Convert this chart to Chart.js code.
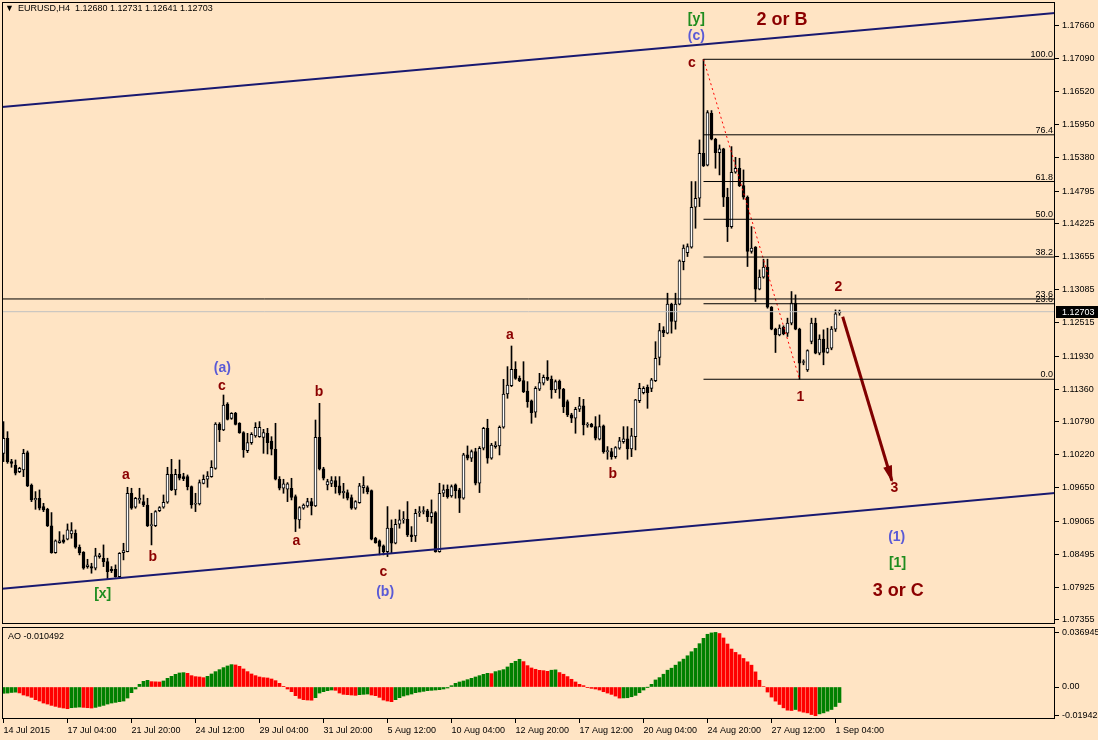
<!DOCTYPE html>
<html lang="en">
<head>
<meta charset="UTF-8">
<title>EURUSD,H4</title>
<style>
    html, body { margin: 0; padding: 0; background: #FFE4C4; }
    body { width: 1098px; height: 740px; position: relative; overflow: hidden; font-family: "Liberation Sans", Arial, sans-serif; }
    canvas { position: absolute; left: 0; }
    #main { top: 0; }
    #ao { top: 626px; }
    .cap { position: absolute; font-size: 9px; line-height: 10px; color: #000; white-space: pre; }
</style>
<script src="https://cdn.jsdelivr.net/npm/chart.js"></script>
</head>
<body>
<canvas id="main" width="1098" height="626"></canvas>
<canvas id="ao" width="1098" height="114"></canvas>
<div class="cap" style="left:5px;top:3px;font-size:9px">▼</div>
<div class="cap" style="left:18px;top:3px">EURUSD,H4  1.12680 1.12731 1.12641 1.12703</div>
<div class="cap" style="left:8px;top:631px">AO -0.010492</div>

<script>
// H4 candles, 14 Jul 2015 12:00 .. 1 Sep 2015 08:00 (bar index 0..209)
const opens = [
    1.10246, 1.10507, 1.10102, 1.10044, 1.09929, 1.09957, 1.10258, 1.09697, 1.09437, 1.09466,
    1.09322, 1.09275, 1.08986, 1.08524, 1.08697, 1.08744, 1.08755, 1.08848, 1.08859, 1.08616,
    1.08530, 1.08281, 1.08281, 1.08252, 1.08455, 1.08426, 1.08368, 1.08235, 1.08235, 1.08108,
    1.08524, 1.08541, 1.09553, 1.09310, 1.09437, 1.09408, 1.09350, 1.08992, 1.08992, 1.09252,
    1.09310, 1.09397, 1.09882, 1.09611, 1.09882, 1.09842, 1.09842, 1.09668, 1.09362, 1.09368,
    1.09726, 1.09796, 1.09842, 1.09986, 1.10755, 1.10651, 1.11102, 1.10853, 1.10940, 1.10767,
    1.10605, 1.10293, 1.10431, 1.10547, 1.10535, 1.10524, 1.10593, 1.10460, 1.10316, 1.09796,
    1.09640, 1.09622, 1.09640, 1.09495, 1.09090, 1.09293, 1.09333, 1.09408, 1.09333, 1.10524,
    1.09975, 1.09697, 1.09726, 1.09772, 1.09680, 1.09564, 1.09564, 1.09478, 1.09293, 1.09391,
    1.09652, 1.09652, 1.09600, 1.08773, 1.08727, 1.08640, 1.08542, 1.08947, 1.08686, 1.09016,
    1.09091, 1.09103, 1.08831, 1.08814, 1.09218, 1.09236, 1.09247, 1.09149, 1.09218, 1.08542,
    1.09553, 1.09623, 1.09507, 1.09698, 1.09611, 1.09467, 1.10218, 1.10160, 1.10276, 1.09727,
    1.10334, 1.10681, 1.10160, 1.10363, 1.10374, 1.10698, 1.11276, 1.11420, 1.11704, 1.11547,
    1.11507, 1.11328, 1.11155, 1.10958, 1.11357, 1.11461, 1.11565, 1.11536, 1.11345, 1.11501,
    1.11357, 1.11143, 1.10912, 1.10854, 1.11010, 1.11068, 1.10733, 1.10750, 1.10709, 1.10490,
    1.10721, 1.10276, 1.10276, 1.10189, 1.10334, 1.10449, 1.10496, 1.10322, 1.10536, 1.11160,
    1.11299, 1.11391, 1.11374, 1.11507, 1.11912, 1.12386, 1.12331, 1.12834, 1.12533, 1.12834,
    1.13573, 1.13729, 1.13822, 1.14515, 1.14672, 1.15452, 1.15244, 1.16145, 1.15695, 1.15463,
    1.15527, 1.14689, 1.14180, 1.15122, 1.15192, 1.14891, 1.14689, 1.13747, 1.13822, 1.13094,
    1.13302, 1.13475, 1.12782, 1.12400, 1.12302, 1.12435, 1.12331, 1.12504, 1.12851, 1.12400,
    1.11822, 1.11695, 1.12186, 1.12504, 1.11984, 1.12227, 1.11995, 1.12071, 1.12400, 1.12680
];
const highs = [
    1.10796, 1.10622, 1.10142, 1.10131, 1.10004, 1.10316, 1.10287, 1.09715, 1.09582, 1.09611,
    1.09379, 1.09293, 1.09218, 1.08744, 1.08888, 1.08830, 1.09021, 1.09044, 1.08917, 1.08657,
    1.08541, 1.08408, 1.08339, 1.08599, 1.08512, 1.08657, 1.08426, 1.08281, 1.08310, 1.08524,
    1.08686, 1.09657, 1.09640, 1.09483, 1.09640, 1.09524, 1.09466, 1.09206, 1.09252, 1.09322,
    1.09524, 1.10004, 1.10142, 1.09969, 1.10131, 1.09900, 1.09871, 1.09680, 1.09553, 1.09784,
    1.09871, 1.09929, 1.10119, 1.10778, 1.10778, 1.11258, 1.11125, 1.10952, 1.10957, 1.10778,
    1.10622, 1.10593, 1.10605, 1.10778, 1.10796, 1.10662, 1.10680, 1.10535, 1.10767, 1.09842,
    1.09796, 1.09738, 1.09813, 1.09524, 1.09322, 1.09368, 1.09466, 1.09466, 1.10824, 1.11113,
    1.10004, 1.09796, 1.09842, 1.09842, 1.09842, 1.09726, 1.09611, 1.09524, 1.09425, 1.09726,
    1.09842, 1.09681, 1.09611, 1.08790, 1.08744, 1.08657, 1.09322, 1.09091, 1.09103, 1.09264,
    1.09236, 1.09409, 1.08975, 1.09276, 1.09322, 1.09322, 1.09276, 1.09438, 1.09236, 1.09727,
    1.09698, 1.09698, 1.09698, 1.09715, 1.09640, 1.10247, 1.10374, 1.10305, 1.10334, 1.10363,
    1.10698, 1.10837, 1.10420, 1.10449, 1.10721, 1.11530, 1.11750, 1.12108, 1.11836, 1.11588,
    1.11836, 1.11490, 1.11172, 1.11403, 1.11634, 1.11605, 1.11854, 1.11588, 1.11519, 1.11519,
    1.11374, 1.11172, 1.10941, 1.11045, 1.11218, 1.11183, 1.10779, 1.10767, 1.10883, 1.10912,
    1.10738, 1.10363, 1.10334, 1.10363, 1.10524, 1.10709, 1.10709, 1.10681, 1.11183, 1.11461,
    1.11403, 1.11432, 1.11547, 1.12183, 1.12501, 1.12443, 1.13024, 1.12851, 1.13024, 1.13602,
    1.13862, 1.13880, 1.14961, 1.14961, 1.15683, 1.17082, 1.16192, 1.16192, 1.15712, 1.15596,
    1.15539, 1.14845, 1.15567, 1.15382, 1.15365, 1.15163, 1.14712, 1.14180, 1.13833, 1.13429,
    1.13614, 1.13614, 1.12793, 1.12417, 1.12475, 1.12458, 1.12591, 1.13053, 1.12995, 1.12417,
    1.11868, 1.12042, 1.12591, 1.12591, 1.12302, 1.12389, 1.12417, 1.12446, 1.12735, 1.12731
];
const lows = [
    1.10102, 1.10073, 1.10004, 1.09871, 1.09911, 1.09842, 1.09668, 1.09408, 1.09275, 1.09264,
    1.09235, 1.08975, 1.08512, 1.08512, 1.08686, 1.08686, 1.08744, 1.08773, 1.08599, 1.08484,
    1.08235, 1.08252, 1.08166, 1.08223, 1.08426, 1.08281, 1.08062, 1.08177, 1.08096, 1.08079,
    1.08397, 1.08536, 1.09275, 1.09293, 1.09379, 1.09322, 1.08975, 1.08657, 1.08975, 1.09235,
    1.09293, 1.09379, 1.09599, 1.09524, 1.09784, 1.09772, 1.09611, 1.09293, 1.09235, 1.09350,
    1.09715, 1.09657, 1.09830, 1.09969, 1.10449, 1.10639, 1.10824, 1.10836, 1.10738, 1.10593,
    1.10177, 1.10258, 1.10402, 1.10524, 1.10524, 1.10246, 1.10235, 1.10218, 1.09784, 1.09611,
    1.09553, 1.09408, 1.09437, 1.08888, 1.08946, 1.09275, 1.09310, 1.09177, 1.09322, 1.09957,
    1.09784, 1.09611, 1.09668, 1.09553, 1.09524, 1.09466, 1.09437, 1.09275, 1.09275, 1.09379,
    1.09553, 1.09542, 1.08744, 1.08686, 1.08484, 1.08484, 1.08455, 1.08513, 1.08675, 1.08947,
    1.09033, 1.08802, 1.08715, 1.08715, 1.09149, 1.09195, 1.09062, 1.09033, 1.08530, 1.08530,
    1.09495, 1.09467, 1.09484, 1.09467, 1.09218, 1.09449, 1.10131, 1.10103, 1.09698, 1.09565,
    1.10305, 1.10074, 1.10143, 1.10334, 1.10218, 1.10681, 1.11201, 1.11403, 1.11530, 1.11490,
    1.11299, 1.11045, 1.10767, 1.10871, 1.11334, 1.11432, 1.11507, 1.11201, 1.11299, 1.11201,
    1.10952, 1.10883, 1.10779, 1.10594, 1.10970, 1.10565, 1.10698, 1.10698, 1.10478, 1.10478,
    1.10247, 1.10143, 1.10143, 1.10160, 1.10316, 1.10420, 1.10143, 1.10189, 1.10305, 1.11126,
    1.11276, 1.11027, 1.11316, 1.11490, 1.11779, 1.12270, 1.12319, 1.12331, 1.12400, 1.12822,
    1.13429, 1.13660, 1.13805, 1.14151, 1.14527, 1.15221, 1.15232, 1.15683, 1.15192, 1.15076,
    1.14527, 1.13920, 1.14151, 1.15105, 1.14874, 1.14654, 1.13487, 1.13718, 1.12880, 1.13082,
    1.13284, 1.12764, 1.12389, 1.11995, 1.12284, 1.12302, 1.12273, 1.12475, 1.12389, 1.11531,
    1.11782, 1.11666, 1.12146, 1.11972, 1.11955, 1.11782, 1.11984, 1.12042, 1.12360, 1.12641
];
const closes = [
    1.10507, 1.10102, 1.10073, 1.09900, 1.09986, 1.10246, 1.09680, 1.09437, 1.09466, 1.09293,
    1.09264, 1.08992, 1.08524, 1.08726, 1.08726, 1.08703, 1.08917, 1.08906, 1.08616, 1.08524,
    1.08252, 1.08310, 1.08252, 1.08466, 1.08484, 1.08368, 1.08195, 1.08212, 1.08108, 1.08512,
    1.08559, 1.09553, 1.09293, 1.09466, 1.09466, 1.09350, 1.08992, 1.09010, 1.09235, 1.09304,
    1.09397, 1.09882, 1.09611, 1.09882, 1.09813, 1.09807, 1.09668, 1.09350, 1.09379, 1.09738,
    1.09796, 1.09853, 1.10004, 1.10755, 1.10651, 1.11085, 1.10836, 1.10940, 1.10749, 1.10605,
    1.10304, 1.10431, 1.10576, 1.10697, 1.10697, 1.10605, 1.10431, 1.10316, 1.09796, 1.09640,
    1.09715, 1.09715, 1.09483, 1.09102, 1.09304, 1.09350, 1.09408, 1.09333, 1.10524, 1.09975,
    1.09813, 1.09755, 1.09772, 1.09668, 1.09553, 1.09587, 1.09466, 1.09293, 1.09408, 1.09680,
    1.09686, 1.09582, 1.08756, 1.08698, 1.08629, 1.08542, 1.08947, 1.08686, 1.09016, 1.09091,
    1.09108, 1.08831, 1.08802, 1.09207, 1.09236, 1.09247, 1.09149, 1.09218, 1.08542, 1.09553,
    1.09611, 1.09495, 1.09669, 1.09600, 1.09467, 1.10218, 1.10160, 1.10276, 1.09727, 1.10334,
    1.10681, 1.10160, 1.10391, 1.10391, 1.10698, 1.11276, 1.11432, 1.11704, 1.11547, 1.11507,
    1.11316, 1.11143, 1.10952, 1.11374, 1.11472, 1.11565, 1.11530, 1.11345, 1.11490, 1.11357,
    1.11056, 1.10912, 1.10854, 1.11010, 1.11068, 1.10738, 1.10750, 1.10709, 1.10507, 1.10709,
    1.10276, 1.10293, 1.10189, 1.10345, 1.10461, 1.10496, 1.10322, 1.10548, 1.11172, 1.11374,
    1.11374, 1.11299, 1.11519, 1.11894, 1.12374, 1.12339, 1.12834, 1.12533, 1.12834, 1.13585,
    1.13805, 1.13833, 1.14515, 1.14672, 1.15452, 1.15232, 1.16157, 1.15695, 1.15463, 1.15527,
    1.14689, 1.14180, 1.15122, 1.15192, 1.14891, 1.14689, 1.13747, 1.13805, 1.13094, 1.13302,
    1.13475, 1.12782, 1.12400, 1.12302, 1.12417, 1.12319, 1.12504, 1.12851, 1.12400, 1.11810,
    1.11839, 1.12030, 1.12504, 1.11984, 1.12227, 1.11995, 1.12071, 1.12400, 1.12666, 1.12703
];

// Awesome Oscillator, one value per bar
const aoValues = [
    -0.00425, -0.00410, -0.00370, -0.00350, -0.00400, -0.00542, -0.00610, -0.00701, -0.00859, -0.00949,
    -0.01085, -0.01153, -0.01243, -0.01311, -0.01379, -0.01424, -0.01469, -0.01401, -0.01379, -0.01356,
    -0.01379, -0.01401, -0.01424, -0.01379, -0.01311, -0.01243, -0.01153, -0.01085, -0.01040, -0.00994,
    -0.00949, -0.00746, -0.00384, -0.00136, 0.00181, 0.00384, 0.00452, 0.00362, 0.00350, 0.00339,
    0.00407, 0.00588, 0.00723, 0.00859, 0.00949, 0.00972, 0.00927, 0.00768, 0.00701, 0.00678,
    0.00633, 0.00723, 0.00881, 0.01040, 0.01175, 0.01311, 0.01424, 0.01514, 0.01492, 0.01401,
    0.01220, 0.01040, 0.00881, 0.00768, 0.00678, 0.00633, 0.00610, 0.00542, 0.00429, 0.00249,
    0.00045, -0.00136, -0.00316, -0.00588, -0.00768, -0.00859, -0.00881, -0.00893, -0.00723, -0.00407,
    -0.00316, -0.00249, -0.00203, -0.00226, -0.00407, -0.00497, -0.00520, -0.00542, -0.00565, -0.00520,
    -0.00497, -0.00475, -0.00542, -0.00588, -0.00701, -0.00881, -0.00949, -0.00994, -0.00859, -0.00723,
    -0.00610, -0.00542, -0.00475, -0.00384, -0.00339, -0.00294, -0.00249, -0.00226, -0.00203, -0.00181,
    -0.00136, -0.00068, 0.00090, 0.00249, 0.00339, 0.00407, 0.00497, 0.00588, 0.00678, 0.00768,
    0.00859, 0.00927, 0.00904, 0.01040, 0.01107, 0.01175, 0.01356, 0.01605, 0.01740, 0.01876,
    0.01718, 0.01446, 0.01288, 0.01198, 0.01130, 0.01107, 0.01062, 0.01136, 0.01159, 0.00977,
    0.00864, 0.00705, 0.00523, 0.00341, 0.00182, 0.00091, -0.00023, -0.00091, -0.00136, -0.00205,
    -0.00318, -0.00409, -0.00500, -0.00614, -0.00750, -0.00739, -0.00727, -0.00659, -0.00568, -0.00386,
    -0.00205, -0.00011, 0.00182, 0.00477, 0.00636, 0.00864, 0.01136, 0.01273, 0.01477, 0.01705,
    0.01886, 0.02114, 0.02386, 0.02614, 0.02932, 0.03295, 0.03568, 0.03660, 0.036945, 0.03620,
    0.03318, 0.02909, 0.02568, 0.02341, 0.02182, 0.01932, 0.01705, 0.01477, 0.01023, 0.00455,
    0.00034, -0.00341, -0.00682, -0.00955, -0.01182, -0.01409, -0.01568, -0.01591, -0.01523, -0.01636,
    -0.01705, -0.01750, -0.01864, -0.019425, -0.01818, -0.01750, -0.01636, -0.01523, -0.01320, -0.010492
];

// axis labels
const priceTicks = [1.17660, 1.17090, 1.16520, 1.15950, 1.15380, 1.14795, 1.14225, 1.13655, 1.13085,
                    1.12515, 1.11930, 1.11360, 1.10790, 1.10220, 1.09650, 1.09065, 1.08495, 1.07925, 1.07355];
const aoTicks = [0.036945, 0, -0.019425];
const aoTickLabels = ['0.036945', '0.00', '-0.019425'];
const timeTickBars = [0, 16, 32, 48, 64, 80, 96, 112, 128, 144, 160, 176, 192, 208];
const timeTickLabels = ['14 Jul 2015', '17 Jul 04:00', '21 Jul 20:00', '24 Jul 12:00', '29 Jul 04:00',
    '31 Jul 20:00', '5 Aug 12:00', '10 Aug 04:00', '12 Aug 20:00', '17 Aug 12:00', '20 Aug 04:00',
    '24 Aug 20:00', '27 Aug 12:00', '1 Sep 04:00'];

// drawn objects (bar index, price)
const upperChannelBars = [-1, 264], upperChannelPrices = [1.16249, 1.17892];
const lowerChannelBars = [-1, 264], lowerChannelPrices = [1.07892, 1.09564];
const levelLine = 1.12924;
const bidPrice = 1.12703;
const fibStartBar = 175, fibHighBar = 175, fibLowBar = 199;
const fibLevels = [0, 23.6, 38.2, 50, 61.8, 76.4, 100];
const arrowBars = [209.8, 222.1], arrowPrices = [1.12616, 1.09771];

const waveText  = ['[x]', 'a', 'b', '(a)', 'c', 'a', 'b', 'c', '(b)', 'a', 'b',
                   '[y]', '(c)', 'c', '2 or B', '1', '2', '3', '(1)', '[1]', '3 or C'];
const waveBar   = [24.8, 30.6, 37.3, 54.7, 54.6, 73.2, 78.9, 95.0, 95.4, 126.6, 152.3,
                   173.2, 173.2, 172.1, 194.6, 199.2, 208.7, 222.7, 223.3, 223.5, 223.7];
const wavePrice = [1.07805, 1.09870, 1.08452, 1.11726, 1.11414, 1.08725, 1.11305, 1.08182, 1.07840, 1.12299, 1.09887,
                   1.17785, 1.17481, 1.17018, 1.17759, 1.11218, 1.13126, 1.09639, 1.08799, 1.08348, 1.07862];

const FONT = '"Liberation Sans", Arial, sans-serif';
const MAROON = '#8B0000';
const xMin = -0.375, xMax = 262.875;

const fibHigh = highs[fibHighBar], fibLow = lows[fibLowBar];
const fibPrice = lvl => fibLow + (fibHigh - fibLow) * lvl / 100;
const seg = (bars, prices) => bars.map((b, k) => ({ x: b, y: prices[k] }));
const idx = opens.map((_, i) => i);

function lineSet(data, color, width, dash) {
    return { type: 'line', data: data, borderColor: color, borderWidth: width, borderDash: dash || [],
             pointRadius: 0, fill: false, tension: 0, order: 0 };
}

const overlay = {
    id: 'overlay',
    afterDatasetsDraw(chart) {
        const { ctx, chartArea: a, scales: { x, y } } = chart;
        ctx.save();
        // fibo level captions
        ctx.font = '9px ' + FONT;
        ctx.fillStyle = '#000';
        ctx.textAlign = 'right';
        ctx.textBaseline = 'alphabetic';
        fibLevels.forEach(l => ctx.fillText(l.toFixed(1), a.right - 2, y.getPixelForValue(fibPrice(l)) - 2));
        ctx.fillText('23.6', a.right - 2, y.getPixelForValue(levelLine) - 2);

        // arrow head
        const x0 = x.getPixelForValue(arrowBars[0]), y0 = y.getPixelForValue(arrowPrices[0]);
        const x1 = x.getPixelForValue(arrowBars[1]), y1 = y.getPixelForValue(arrowPrices[1]);
        const ang = Math.atan2(y1 - y0, x1 - x0), c = Math.cos(ang), s = Math.sin(ang);
        ctx.fillStyle = '#800000';
        ctx.beginPath();
        ctx.moveTo(x1 + 2 * c, y1 + 2 * s);
        ctx.lineTo(x1 - 15 * c + 4.5 * s, y1 - 15 * s - 4.5 * c);
        ctx.lineTo(x1 - 15 * c - 4.5 * s, y1 - 15 * s + 4.5 * c);
        ctx.closePath();
        ctx.fill();

        // wave labels
        ctx.textAlign = 'center';
        ctx.textBaseline = 'middle';
        waveText.forEach((t, k) => {
            ctx.font = (t.includes(' or ') ? 'bold 18px ' : 'bold 14px ') + FONT;
            ctx.fillStyle = t[0] === '(' ? '#5A5AD6' : t[0] === '[' ? '#1E8C1E' : MAROON;
            ctx.fillText(t, x.getPixelForValue(waveBar[k]), y.getPixelForValue(wavePrice[k]));
        });

        // frame
        ctx.strokeStyle = '#000';
        ctx.lineWidth = 1;
        ctx.strokeRect(a.left + 0.5, a.top + 0.5, a.width - 1, a.height - 1);

        // current price box
        const by = Math.round(y.getPixelForValue(bidPrice));
        ctx.fillStyle = '#000';
        ctx.fillRect(a.right + 1, by - 6, 43, 12);
        ctx.fillStyle = '#FFF';
        ctx.font = '9px ' + FONT;
        ctx.textAlign = 'left';
        ctx.fillText(bidPrice.toFixed(5), a.right + 7, by + 0.5);
        ctx.restore();
    }
};

const frame = {
    id: 'frame',
    afterDatasetsDraw(chart) {
        const { ctx, chartArea: a } = chart;
        ctx.save();
        ctx.strokeStyle = '#000';
        ctx.lineWidth = 1;
        ctx.strokeRect(a.left + 0.5, a.top + 0.5, a.width - 1, a.height - 1);
        ctx.restore();
    }
};

const tickFont = { family: FONT, size: 9 };

new Chart(document.getElementById('main'), {
    type: 'bar',
    data: {
        datasets: [
            lineSet(seg(upperChannelBars, upperChannelPrices), '#191970', 2),
            lineSet(seg(lowerChannelBars, lowerChannelPrices), '#191970', 2),
            lineSet(seg([-1, 264], [bidPrice, bidPrice]), '#C0C0C0', 1),
            lineSet(seg([-1, 264], [levelLine, levelLine]), '#000', 1),
            ...fibLevels.map(l => lineSet(seg([fibStartBar, 264], [fibPrice(l), fibPrice(l)]), '#000', 1)),
            lineSet(seg([fibHighBar, fibLowBar], [fibHigh, fibLow]), '#FF0000', 1, [2, 3]),
            lineSet(seg(arrowBars, arrowPrices), '#800000', 3),
            {
                label: 'body',
                data: idx.map(i => ({ x: i, y: [Math.min(opens[i], closes[i]), Math.max(opens[i], closes[i])] })),
                backgroundColor: idx.map(i => closes[i] >= opens[i] ? '#FFFFFF' : '#000000'),
                borderColor: '#000',
                borderWidth: 1,
                borderSkipped: false,
                barThickness: 3,
                minBarLength: 1,
                grouped: false,
                order: 1
            },
            {
                label: 'wick',
                data: idx.map(i => ({ x: i, y: [lows[i], highs[i]] })),
                backgroundColor: '#000',
                borderWidth: 0,
                barThickness: 1,
                grouped: false,
                order: 2
            }
        ]
    },
    options: {
        responsive: false,
        animation: false,
        events: [],
        layout: { padding: { left: 2, top: 2, right: 0, bottom: 2 } },
        plugins: { legend: { display: false }, tooltip: { enabled: false } },
        scales: {
            x: { type: 'linear', display: false, min: xMin, max: xMax, offset: false, bounds: 'data' },
            y: {
                position: 'right', min: 1.07285, max: 1.18076, bounds: 'data', beginAtZero: false,
                afterBuildTicks: s => { s.ticks = priceTicks.map(v => ({ value: v })); },
                afterFit: s => { s.width = 43; s.paddingTop = 0; s.paddingBottom = 0; },
                ticks: { callback: v => v.toFixed(5), font: tickFont, color: '#000', padding: 3, autoSkip: false },
                grid: { drawOnChartArea: false, drawTicks: true, tickLength: 4, color: '#000' },
                border: { display: false }
            }
        }
    },
    plugins: [overlay]
});

new Chart(document.getElementById('ao'), {
    type: 'bar',
    data: {
        datasets: [{
            label: 'AO',
            data: idx.map(i => ({ x: i, y: aoValues[i] })),
            backgroundColor: aoValues.map((v, i) => i === 0 || v > aoValues[i - 1] ? '#008000' : '#FF0000'),
            borderWidth: 0,
            barThickness: 3,
            grouped: false
        }]
    },
    options: {
        responsive: false,
        animation: false,
        events: [],
        layout: { padding: { left: 2, top: 1, right: 0, bottom: 0 } },
        plugins: { legend: { display: false }, tooltip: { enabled: false } },
        scales: {
            x: {
                type: 'linear', min: xMin, max: xMax, offset: false, bounds: 'data',
                afterBuildTicks: s => { s.ticks = timeTickBars.map(v => ({ value: v })); },
                afterFit: s => { s.height = 21; s.paddingLeft = 0; s.paddingRight = 0; },
                ticks: { callback: (v, k) => timeTickLabels[k], align: 'start', font: tickFont, color: '#000',
                         padding: 2, maxRotation: 0, minRotation: 0, autoSkip: false },
                grid: { drawOnChartArea: false, drawTicks: true, tickLength: 4, color: '#000', offset: false },
                border: { display: false }
            },
            y: {
                position: 'right', min: -0.02165, max: 0.04060, bounds: 'data', beginAtZero: false,
                afterBuildTicks: s => { s.ticks = aoTicks.map(v => ({ value: v })); },
                afterFit: s => { s.width = 43; s.paddingTop = 0; s.paddingBottom = 0; },
                ticks: { callback: (v, k) => aoTickLabels[k], font: tickFont, color: '#000', padding: 3, autoSkip: false },
                grid: { drawOnChartArea: false, drawTicks: true, tickLength: 4, color: '#000' },
                border: { display: false }
            }
        }
    },
    plugins: [frame]
});
</script>
</body>
</html>
